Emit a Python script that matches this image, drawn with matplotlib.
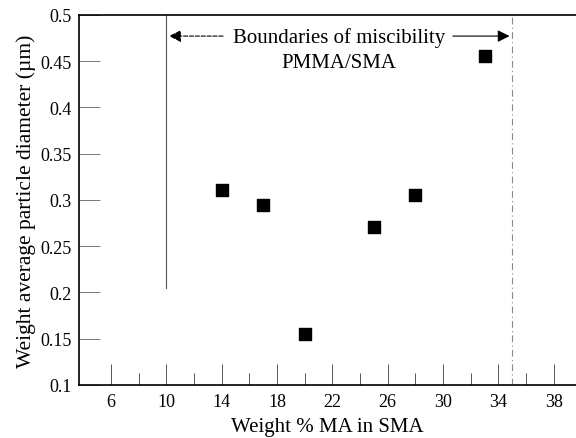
import numpy as np
import matplotlib.pyplot as plt

plt.rcParams['font.family'] = ['Liberation Serif', 'DejaVu Serif']

ma_pct = [14, 17, 20, 25, 28, 33]
diameter = [0.311, 0.294, 0.155, 0.271, 0.305, 0.456]

x_major = [6, 10, 14, 18, 22, 26, 30, 34, 38]
x_minor = [8, 12, 16, 20, 24, 28, 32, 36]
y_ticks = [0.1, 0.15, 0.2, 0.25, 0.3, 0.35, 0.4, 0.45, 0.5]
y_labels = ['0.1', '0.15', '0.2', '0.25', '0.3', '0.35', '0.4', '0.45', '0.5']

lo_bound, hi_bound = 10, 35


def main():
    fig = plt.figure(figsize=(5.76, 4.39), dpi=100)
    ax = fig.add_axes([0.137, 0.121, 0.863, 0.843])

    ax.scatter(ma_pct, diameter, marker='s', s=72, color='black', zorder=3)

    # miscibility boundaries
    ax.plot([lo_bound, lo_bound], [0.205, 0.5], color='#555555', lw=0.8)
    ax.plot([hi_bound, hi_bound], [0.1, 0.5], color='#888888', lw=0.8,
            linestyle=(0, (6, 3, 1, 3)))

    ax.annotate('', xy=(lo_bound, 0.477), xytext=(14.3, 0.477),
                arrowprops=dict(arrowstyle='-|>', color='black', lw=0.8,
                                mutation_scale=18, linestyle='--'))
    ax.annotate('', xy=(hi_bound, 0.477), xytext=(30.5, 0.477),
                arrowprops=dict(arrowstyle='-|>', color='black', lw=0.8,
                                mutation_scale=18))
    mid = (lo_bound + hi_bound) / 2
    ax.text(mid, 0.476, 'Boundaries of miscibility', ha='center', va='center',
            fontsize=15)
    ax.text(mid, 0.448, 'PMMA/SMA', ha='center', va='center', fontsize=15)

    ax.set_xlim(3.69, 39.6)
    ax.set_ylim(0.1, 0.5)
    ax.set_xticks(x_major)
    ax.set_xticks(x_minor, minor=True)
    ax.set_yticks(y_ticks)
    ax.set_yticklabels(y_labels)

    ax.tick_params(axis='x', which='major', direction='in', length=15,
                   width=0.7, color='#555555', labelsize=13, pad=6)
    ax.tick_params(axis='x', which='minor', direction='in', length=9,
                   width=0.7, color='#555555')
    ax.tick_params(axis='y', direction='in', length=15, width=0.7,
                   color='#777777', labelsize=13, pad=5)

    ax.spines['right'].set_visible(False)
    for side in ['left', 'bottom', 'top']:
        ax.spines[side].set_linewidth(1.2)

    ax.set_xlabel('Weight % MA in SMA', fontsize=15, labelpad=5)
    ax.set_ylabel('Weight average particle diameter (\u00b5m)', fontsize=15.5,
                  labelpad=3)

    fig.savefig('out.png', dpi=100)
    plt.close(fig)


if __name__ == '__main__':
    main()
